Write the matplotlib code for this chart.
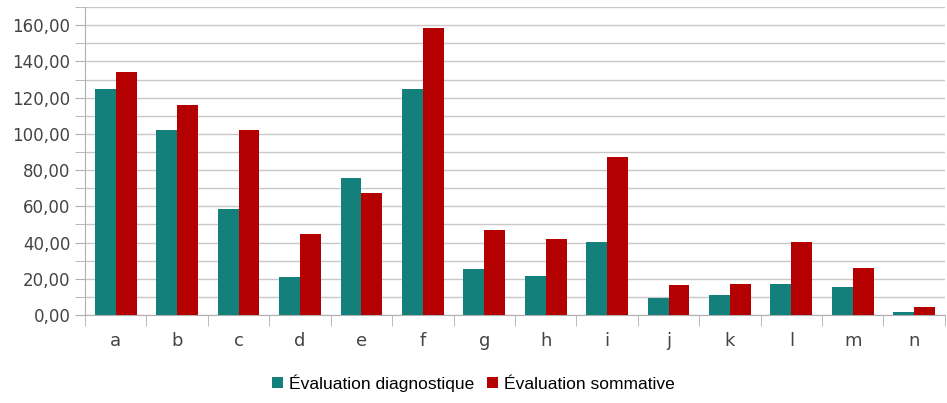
import numpy as np
import matplotlib
matplotlib.use("Agg")
import matplotlib.pyplot as plt
from matplotlib.ticker import MultipleLocator, FuncFormatter

categories = ['a', 'b', 'c', 'd', 'e', 'f', 'g', 'h', 'i', 'j', 'k', 'l', 'm', 'n']
diagnostique = [124.6, 102.4, 58.5, 21.2, 75.9, 124.6, 25.5, 21.6, 40.2, 9.6, 11.2, 17.3, 15.3, 1.5]
sommative = [134.2, 116.1, 102.4, 44.5, 67.5, 158.4, 47.0, 42.0, 87.5, 16.4, 17.3, 40.4, 26.2, 4.4]

teal = '#13807b'
red = '#b40000'

fig = plt.figure(figsize=(9.47, 4.03), dpi=100)
ax = fig.add_axes([0.0898, 0.2184, 0.908, 0.764])

x = np.arange(len(categories))
w = 0.34
ax.bar(x - w / 2, diagnostique, w, color=teal, label='Évaluation diagnostique', zorder=3)
ax.bar(x + w / 2, sommative, w, color=red, label='Évaluation sommative', zorder=3)

ax.set_xlim(-0.5, len(categories) - 0.5)
ax.set_ylim(0, 170)
ax.yaxis.set_major_locator(MultipleLocator(20))
ax.yaxis.set_minor_locator(MultipleLocator(10))
ax.yaxis.set_major_formatter(FuncFormatter(lambda v, p: f'{v:.2f}'.replace('.', ',')))
ax.grid(axis='y', which='both', color='#c8c8c8', linewidth=1, zorder=0)

ax.set_xticks(x)
ax.set_xticklabels(categories)
ax.set_xticks(np.arange(-0.5, len(categories)), minor=True)
ax.tick_params(axis='x', which='major', length=0, pad=12, labelsize=13, colors='#444444')
ax.tick_params(axis='x', which='minor', length=8, color='#b0b0b0')
ax.tick_params(axis='y', which='both', length=7, color='#b0b0b0', labelsize=12, labelcolor='#444444')

for s in ['top', 'right']:
    ax.spines[s].set_visible(False)
for s in ['left', 'bottom']:
    ax.spines[s].set_color('#b0b0b0')

fig.legend(loc='center', bbox_to_anchor=(0.5, 0.05), ncol=2, frameon=False,
           handlelength=0.65, handleheight=0.65, handletextpad=0.35, columnspacing=0.7,
           prop={'family': 'Liberation Sans', 'size': 12.5})

fig.savefig('out.png', dpi=100)
